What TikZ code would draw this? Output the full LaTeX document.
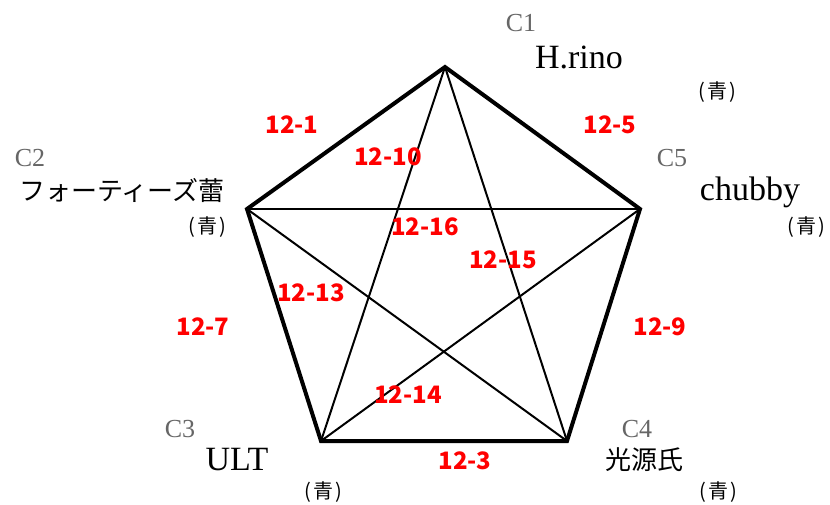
\documentclass[tikz,border=0pt]{standalone}
\usepackage{fontspec}
\setmainfont{Liberation Serif}
\newfontfamily\jpfont{Noto Sans CJK JP}
\usetikzlibrary{calc}

\tikzset{
  edge/.style={line width=4pt, line join=miter},
  chord/.style={line width=2pt},
  cid/.style={text=black!60, font=\fontsize{26}{26}\selectfont, inner sep=0pt},
  cname/.style={font=\fontsize{34}{34}\selectfont, inner sep=0pt},
  jname/.style={font=\jpfont\fontsize{26}{26}\selectfont, inner sep=0pt},
  ao/.style={font=\jpfont\fontsize{20}{20}\selectfont, inner sep=0pt},
  match/.style={text=red, font=\jpfont\bfseries\fontsize{24}{24}\selectfont, inner sep=0pt}
}

\begin{document}
\begin{tikzpicture}[x=1pt,y=-1pt]
\useasboundingbox (0,0) rectangle (830,504);
% Ecken
\coordinate (c1) at (445,67);
\coordinate (c5) at (640,209);
\coordinate (c4) at (567,441);
\coordinate (c3) at (321,441);
\coordinate (c2) at (247,209);
% Diagonalen
\draw[chord] (c1) -- (c3);
\draw[chord] (c1) -- (c4);
\draw[chord] (c2) -- (c5);
\draw[chord] (c2) -- (c4);
\draw[chord] (c3) -- (c5);
% Fuenfeck
\draw[edge] (c1) -- (c5) -- (c4) -- (c3) -- (c2) -- cycle;
% Teams
\node[cid] (n1) at (521,23) {C1};
\node[cname] (t1) at (579,57) {H.rino};
\node[ao] (a1) at (717,92) {(\kern2pt青\kern2pt)};
\node[cid] (n2) at (30,158) {C2};
\node[jname] (t2) at (122,190) {フォーティーズ蕾};
\node[ao] (a2) at (207,227) {(\kern2pt青\kern2pt)};
\node[cid] (n5) at (672,158) {C5};
\node[cname] (t5) at (750,192) {chubby};
\node[ao] (a5) at (806,227) {(\kern2pt青\kern2pt)};
\node[cid] (n3) at (180,429) {C3};
\node[cname] (t3) at (237,460) {ULT};
\node[ao] (a3) at (323,492) {(\kern2pt青\kern2pt)};
\node[cid] (n4) at (637,429) {C4};
\node[jname] (t4) at (644,460) {光源氏};
\node[ao] (a4) at (718,492) {(\kern2pt青\kern2pt)};
% Spiele
\node[match] (m1) at (292,125) {12-1};
\node[match] (m5) at (610,125) {12-5};
\node[match] (m10) at (388,157) {12-10};
\node[match] (m16) at (425,227) {12-16};
\node[match] (m15) at (503,260) {12-15};
\node[match] (m13) at (311,293) {12-13};
\node[match] (m7) at (203,327) {12-7};
\node[match] (m9) at (660,327) {12-9};
\node[match] (m14) at (408,395) {12-14};
\node[match] (m3) at (465,461) {12-3};
\end{tikzpicture}
\end{document}
